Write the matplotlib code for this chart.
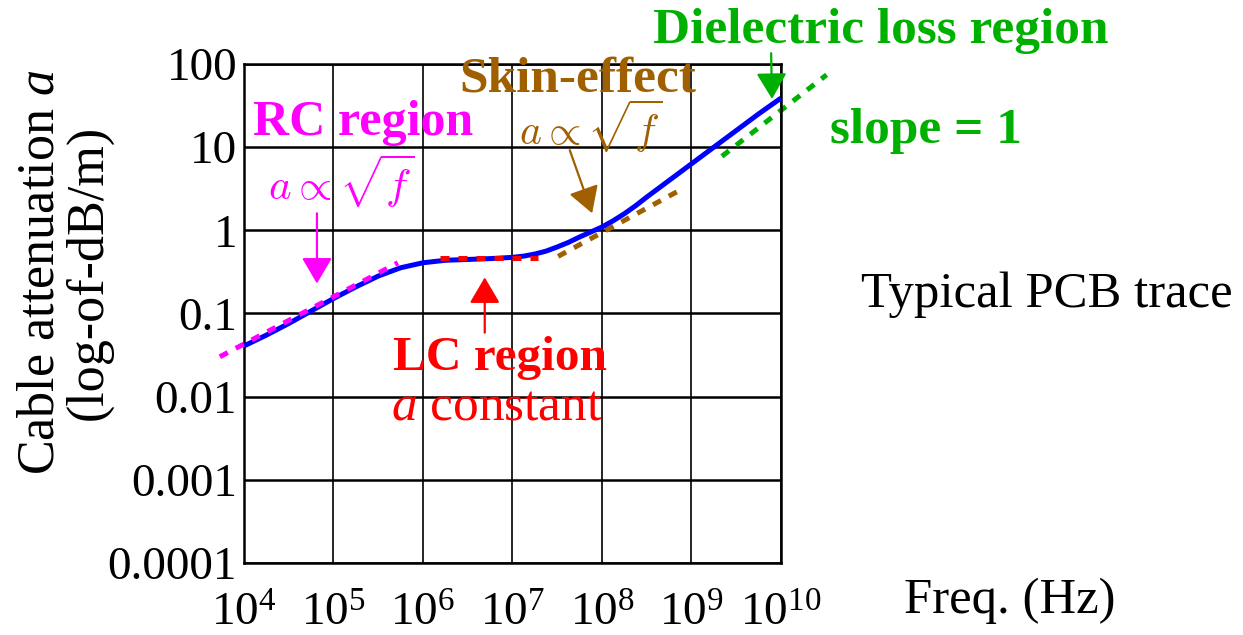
"""
Cable attenuation vs frequency for a typical PCB trace (log-log)
"""

import matplotlib.pyplot as plt
import numpy as np

plt.rcParams['font.family'] = ['Liberation Serif', 'DejaVu Serif']
plt.rcParams['mathtext.fontset'] = 'custom'
plt.rcParams['mathtext.rm'] = 'Liberation Serif'
plt.rcParams['mathtext.it'] = 'Liberation Serif:italic'
plt.rcParams['mathtext.bf'] = 'Liberation Serif:bold'

# Blue curve (log10 f, log10 a)
log_f = [4.0, 4.25, 4.5, 4.75, 5.0, 5.25, 5.5, 5.75, 6.0, 6.25, 6.5, 6.75, 7.0,
         7.125, 7.25, 7.375, 7.5, 7.625, 7.75, 7.875, 8.0, 8.125, 8.25, 8.375,
         8.5, 8.75, 9.0, 9.25, 9.5, 9.75, 10.0]
log_a = [-1.39, -1.26, -1.12, -0.97, -0.82, -0.68, -0.55, -0.45, -0.39, -0.36,
         -0.35, -0.34, -0.325, -0.31, -0.285, -0.25, -0.20, -0.145, -0.08, -0.02,
         0.04, 0.115, 0.20, 0.295, 0.40, 0.60, 0.80, 1.0, 1.20, 1.40, 1.59]

# Asymptote segments (end points, log10 f and log10 a)
rc_f, rc_a = [3.73, 5.72], [-1.52, -0.39]
lc_f, lc_a = [6.19, 7.28], [-0.337, -0.337]
skin_f, skin_a = [7.51, 8.89], [-0.313, 0.494]
diel_f, diel_a = [9.34, 10.51], [0.89, 1.87]

y_ticks = [1e-4, 1e-3, 1e-2, 1e-1, 1, 10, 100]
y_labels = ['0.0001', '0.001', '0.01', '0.1', '1', '10', '100']
x_ticks = [1e4, 1e5, 1e6, 1e7, 1e8, 1e9, 1e10]
x_labels = [r'$10^{%d}$' % k for k in range(4, 11)]

c_rc = '#ff00ff'
c_lc = '#ff0000'
c_skin = '#a06000'
c_diel = '#00b000'

fig = plt.figure(figsize=(12.43, 6.35), dpi=100)
ax = fig.add_axes([0.1963, 0.1134, 0.432, 0.7858])

ax.set_xscale('log')
ax.set_yscale('log')
ax.set_xlim(1e4, 1e10)
ax.set_ylim(1e-4, 100)

ax.plot(10 ** np.array(log_f), 10 ** np.array(log_a), color='#0000ff', lw=3.6,
        solid_capstyle='butt', solid_joinstyle='round', zorder=3, clip_on=False)

dash = dict(lw=3.6, linestyle=(0, (1.8, 1.8)), dash_capstyle='butt', clip_on=False)
ax.plot(10 ** np.array(rc_f), 10 ** np.array(rc_a), color=c_rc, zorder=4, **dash)
ax.plot(10 ** np.array(lc_f), 10 ** np.array(lc_a), color=c_lc, zorder=4, **dash)
ax.plot(10 ** np.array(skin_f), 10 ** np.array(skin_a), color=c_skin, zorder=2, **dash)
ax.plot(10 ** np.array(diel_f), 10 ** np.array(diel_a), color=c_diel, zorder=2, **dash)

ax.set_xticks(x_ticks)
ax.set_xticklabels(x_labels)
ax.set_yticks(y_ticks)
ax.set_yticklabels(y_labels)
ax.minorticks_off()
ax.tick_params(axis='both', length=0, labelsize=34)
ax.tick_params(axis='x', pad=22)
ax.tick_params(axis='y', pad=5)

ax.xaxis.grid(True, color='black', lw=1.2)
ax.yaxis.grid(True, color='black', lw=1.8)
for s in ax.spines.values():
    s.set_linewidth(1.8)


# arrows (tail -> tip, in log10 units)
def arrow(tail, tip, color):
    ax.annotate('', xy=(10 ** tip[0], 10 ** tip[1]), xytext=(10 ** tail[0], 10 ** tail[1]),
                annotation_clip=False,
                arrowprops=dict(arrowstyle='-|>,head_length=0.8,head_width=0.47',
                                color=color, lw=1.6, shrinkA=0, shrinkB=0,
                                mutation_scale=20))


arrow((4.815, 0.205), (4.815, -0.64), c_rc)
arrow((6.69, -1.23), (6.69, -0.566), c_lc)
arrow((7.64, 0.964), (7.89, 0.205), c_skin)
arrow((9.89, 2.13), (9.90, 1.58), c_diel)


def ftext(x, y, s, **kw):
    kw.setdefault('va', 'baseline')
    fig.text(x / 1243, 1 - y / 635, s, ha='center', **kw)


ftext(65, 272, 'Cable attenuation $a$\n(log-of-dB/m)', va='center', rotation=90,
      fontsize=37.5, linespacing=1.0, multialignment='center')

ftext(363, 135, 'RC region', color=c_rc, fontsize=36, fontweight='bold')
ftext(341, 200, r'$a \propto \sqrt{f}$', color=c_rc, fontsize=31, math_fontfamily='cm')
ftext(578, 91, 'Skin-effect', color=c_skin, fontsize=37, fontweight='bold')
ftext(591, 145, r'$a \propto \sqrt{f}$', color=c_skin, fontsize=30, math_fontfamily='cm')
ftext(500, 370, 'LC region', color=c_lc, fontsize=35.5, fontweight='bold')
ftext(497, 420, '$a$ constant', color=c_lc, fontsize=37)
ftext(881, 43, 'Dielectric loss region', color=c_diel, fontsize=37, fontweight='bold')
ftext(926, 143, 'slope = 1', color=c_diel, fontsize=37, fontweight='bold')
ftext(1047, 307, 'Typical PCB trace', color='black', fontsize=36.5)
ftext(1010, 613, 'Freq. (Hz)', color='black', fontsize=36.5)

fig.savefig('out.png', dpi=100)
